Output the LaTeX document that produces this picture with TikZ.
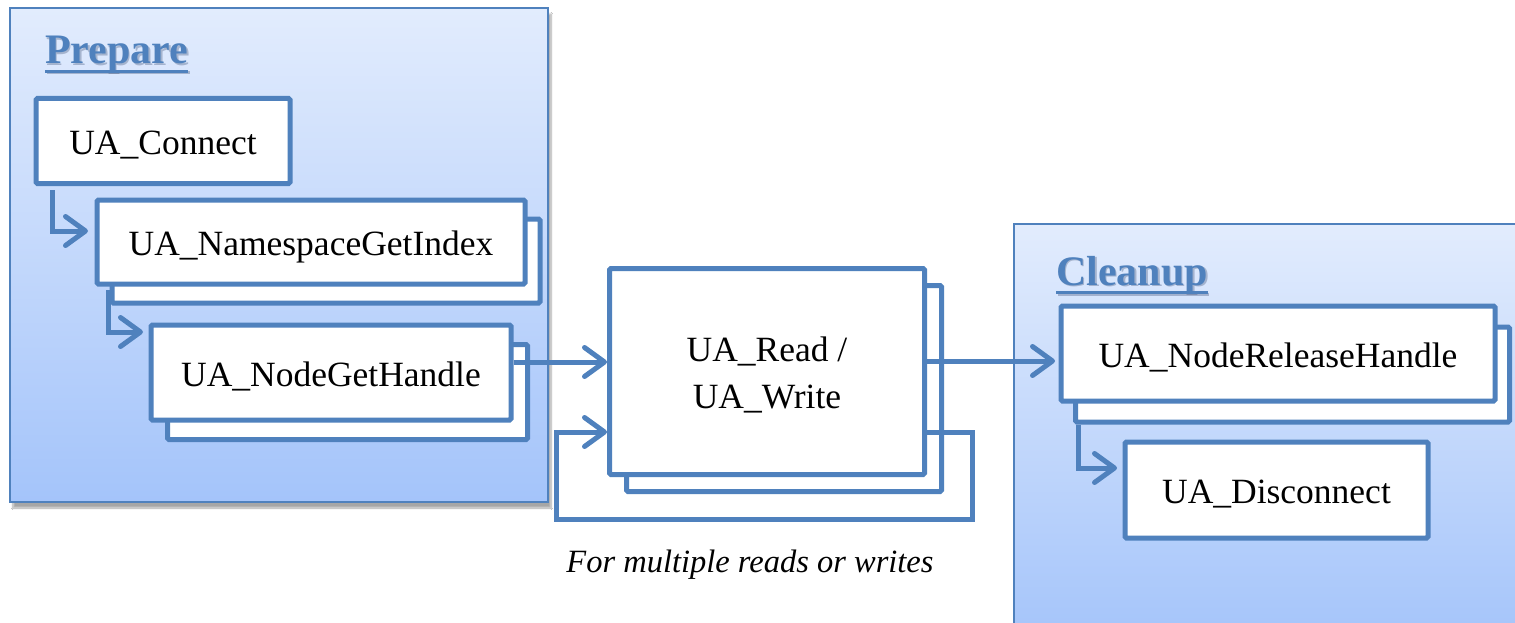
\documentclass[tikz,border=0pt]{standalone}
\usepackage{fontspec}
\setmainfont{Liberation Serif}
\usetikzlibrary{arrows.meta,shadows.blur,calc}
\definecolor{bl}{RGB}{79,129,189}
\definecolor{gtop}{RGB}{226,236,253}
\definecolor{gbot}{RGB}{164,196,250}
\definecolor{tshadow}{RGB}{40,60,100}
\newcommand{\myul}[1]{\setbox0\hbox{#1}\rlap{\raisebox{-9pt}{\rule{\wd0}{3pt}}}\box0}
\tikzset{
  box/.style={draw=bl, line width=5pt, fill=white, rounded corners=1.5pt, inner sep=0pt,
    font=\fontsize{35.5}{47}\selectfont, align=center, text height=27pt, text depth=0pt},
  backbox/.style={draw=bl, line width=5pt, fill=white, rounded corners=1.5pt, inner sep=0pt},
  container/.style={draw=bl, line width=2pt, top color=gtop, bottom color=gbot, inner sep=0pt,
    blur shadow={shadow xshift=3pt, shadow yshift=-6pt, shadow blur steps=8, shadow opacity=35}},
  title/.style={font=\fontsize{42}{42}\bfseries\selectfont, text=bl, anchor=base west, inner sep=0pt},
  titleshadow/.style={font=\fontsize{42}{42}\bfseries\selectfont, text=tshadow, opacity=0.3, anchor=base west, inner sep=0pt},
  arr/.style={draw=bl, line width=5pt, -{Straight Barb[length=20pt,width=29pt,line width=5pt,round]}},
  note/.style={font=\fontsize{32.5}{40}\itshape\selectfont, inner sep=0pt, anchor=base},
}
\begin{document}
\begin{tikzpicture}[x=1pt,y=-1pt]
\useasboundingbox (0,0) rectangle (1515,623);
\fill[white] (0,0) rectangle (1515,623);
\begin{scope}
\clip (0,0) rectangle (1515,623);
% containers
\node[container, minimum width=538pt, minimum height=494pt] (prep) at (279,255) {};
\node[container, minimum width=520pt, minimum height=420pt] (clean) at (1274,434) {};
\end{scope}
% titles
\node[titleshadow] (preptitleshadow) at (46.5,65.5) {\myul{Prepare}};
\node[title] (preptitle) at (45,64) {\myul{Prepare}};
\node[titleshadow] (cleantitleshadow) at (1057.5,286.5) {\myul{Cleanup}};
\node[title] (cleantitle) at (1056,285) {\myul{Cleanup}};
% back boxes
\node[backbox, minimum width=428pt, minimum height=84pt] (ngiback) at (326,261) {};
\node[backbox, minimum width=360pt, minimum height=95pt] (nghback) at (347.5,392) {};
\node[backbox, minimum width=315pt, minimum height=206pt] (readback) at (784,388.5) {};
\node[backbox, minimum width=434pt, minimum height=95pt] (releaseback) at (1292.5,374.5) {};
% front boxes
\node[box, minimum width=254pt, minimum height=85pt] (connect) at (163,141) {UA\_Connect};
\node[box, minimum width=428pt, minimum height=84pt] (ngi) at (311,242) {UA\_NamespaceGetIndex};
\node[box, minimum width=360pt, minimum height=95pt] (ngh) at (331,372.5) {UA\_NodeGetHandle};
\node[box, text height=74pt, minimum width=315pt, minimum height=206pt] (read) at (767,371.5) {UA\_Read /\\UA\_Write};
\node[box, minimum width=434pt, minimum height=95pt] (release) at (1278,353.5) {UA\_NodeReleaseHandle};
\node[box, minimum width=303pt, minimum height=96pt] (disconnect) at (1276.5,490) {UA\_Disconnect};
% note
\node[note] (loopnote) at (750,572) {For multiple reads or writes};
% connectors
\draw[arr] ($(connect.south west)+(18.5,4)$) |- ($(ngi.west)+(-6.5,-11)$);
\draw[arr] ($(ngi.south west)+(13.5,3.5)$) |- ($(ngh.west)+(-5.5,-40.5)$);
\coordinate (p1) at ($(ngh.east)+(0,-10.5)$);
\draw[arr] (p1) -- (p1 -| read.west);
\coordinate (p2) at ($(read.east)+(0,-10.5)$);
\draw[arr] (p2) -- ($(p2 -| release.west)+(-3.5,0)$);
\coordinate (l0) at ($(read.east)+(0,60.5)$);
\draw[arr] (l0) -- ++(45,0) -- ++(0,87) -- ++(-416,0) -- ++(0,-87) -- (l0 -| read.west);
\draw[arr] ($(releaseback.south west)+(5.5,0)$) |- ($(disconnect.west)+(-5.5,-22)$);
\end{tikzpicture}
\end{document}
